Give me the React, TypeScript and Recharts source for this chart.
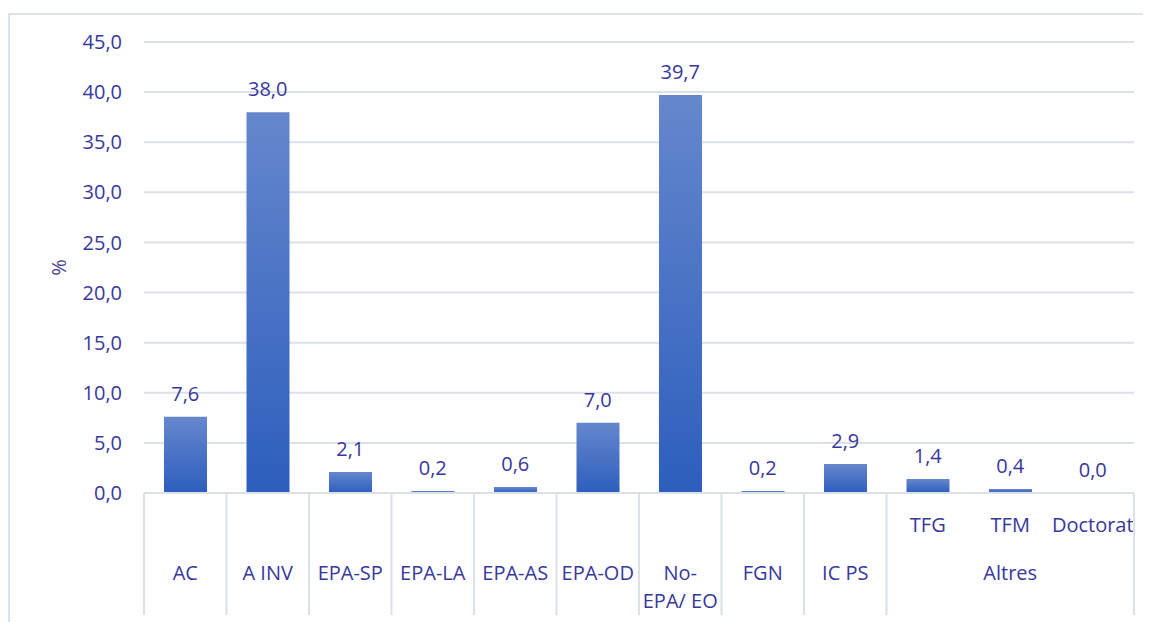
import React from "react";
import { ComposedChart, Bar, Line, XAxis, YAxis, CartesianGrid, LabelList } from "recharts";

const categories = ["AC", "A INV", "EPA-SP", "EPA-LA", "EPA-AS", "EPA-OD", "No-EPA/ EO", "FGN", "IC PS", "TFG", "TFM", "Doctorat"];
const groups = ["", "", "", "", "", "", "", "", "", "Altres", "Altres", "Altres"];
const values = [7.6, 38.0, 2.1, 0.2, 0.6, 7.0, 39.7, 0.2, 2.9, 1.4, 0.4, 0.0];
const yTicks = [0, 5, 10, 15, 20, 25, 30, 35, 40, 45];

const data = categories.map((c, i) => ({ name: c, group: groups[i], value: values[i], idx: i }));

const W = 1151;
const H = 622;
const MARGIN = { top: 42, right: 17, bottom: 6, left: 0 };
const Y_W = 144;
const X_H = 123;
const PLOT_W = W - MARGIN.left - MARGIN.right - Y_W;
const BW = PLOT_W / categories.length;

const TEXT = "#38389a";
const GRID = "#dbe0e9";
const FONT = "'Open Sans', 'Noto Sans', sans-serif";

const fmt = (v: number) => v.toFixed(1).replace(".", ",");

const splitLabel = (s: string): string[] => {
  if (s.length > 8 && s.indexOf("-") > 0) {
    const k = s.indexOf("-") + 1;
    return [s.slice(0, k), s.slice(k)];
  }
  return [s];
};

const XTick = (props: any) => {
  const { x, y, payload } = props;
  const i = payload.index as number;
  const g = groups[i];
  const left = x - BW / 2;
  const els: React.ReactNode[] = [];
  const lineEnd = y + X_H - 1;
  if (!g) {
    els.push(<line key="sep" x1={left} x2={left} y1={y} y2={lineEnd} stroke={GRID} strokeWidth={2} />);
    const lines = splitLabel(categories[i]);
    lines.forEach((ln, k) => {
      els.push(
        <text key={"t" + k} x={x} y={y + 79 + k * 28} textAnchor="middle" dominantBaseline="central" fill={TEXT} fontSize={20} fontFamily={FONT}>
          {ln}
        </text>
      );
    });
  } else {
    const first = groups.indexOf(g);
    const last = groups.lastIndexOf(g);
    if (i === first) {
      els.push(<line key="sep" x1={left} x2={left} y1={y} y2={lineEnd} stroke={GRID} strokeWidth={2} />);
      const n = last - first + 1;
      const cx = left + (n * BW) / 2;
      els.push(
        <text key="g" x={cx} y={y + 79} textAnchor="middle" dominantBaseline="central" fill={TEXT} fontSize={20} fontFamily={FONT}>
          {g}
        </text>
      );
    }
    els.push(
      <text key="s" x={x} y={y + 31} textAnchor="middle" dominantBaseline="central" fill={TEXT} fontSize={20} fontFamily={FONT}>
        {categories[i]}
      </text>
    );
  }
  if (i === categories.length - 1) {
    els.push(<line key="end" x1={x + BW / 2} x2={x + BW / 2} y1={y} y2={lineEnd} stroke={GRID} strokeWidth={2} />);
  }
  return <g>{els}</g>;
};

const YLabel = (props: any) => {
  const vb = props.viewBox || {};
  const cy = (vb.y || 0) + (vb.height || 0) / 2;
  return (
    <text x={58} y={cy} transform={`rotate(-90, 58, ${cy})`} textAnchor="middle" dominantBaseline="central" fill="#4a4299" fontSize={20} fontFamily={FONT}>
      %
    </text>
  );
};

const ValueLabel = (props: any) => {
  const { x, y, width, value } = props;
  if (value === undefined || value === null) return null;
  const cx = Number(x) + (Number(width) || 0) / 2;
  return (
    <text x={cx} y={Number(y) - 16} textAnchor="middle" fill={TEXT} fontSize={20} fontFamily={FONT}>
      {fmt(Number(value))}
    </text>
  );
};

export default function App() {
  return (
    <div
      style={{
        position: "relative",
        marginTop: 5,
        width: 1143,
        height: 620,
        border: "2px solid #dde1ea",
        boxSizing: "border-box",
      }}
    >
      <div style={{ position: "absolute", left: -10, top: -15 }}>
        <ComposedChart width={W} height={H} data={data} margin={MARGIN}>
          <defs>
            <linearGradient id="barGrad" x1="0" y1="0" x2="0" y2="1">
              <stop offset="0%" stopColor="#6587cd" />
              <stop offset="100%" stopColor="#2d5ebd" />
            </linearGradient>
          </defs>
          <CartesianGrid vertical={false} stroke={GRID} strokeWidth={2} />
          <XAxis
            dataKey="name"
            interval={0}
            height={X_H}
            tickLine={false}
            tickSize={0}
            tickMargin={0}
            axisLine={{ stroke: GRID, strokeWidth: 2 }}
            tick={<XTick />}
          />
          <YAxis
            width={Y_W}
            domain={[0, 45]}
            ticks={yTicks}
            tickFormatter={fmt}
            axisLine={false}
            tickLine={false}
            tickMargin={16}
            tick={{ fill: TEXT, fontSize: 20, fontFamily: FONT }}
            label={<YLabel />}
          />
          <Bar dataKey="value" fill="url(#barGrad)" barSize={43} isAnimationActive={false} />
          <Line dataKey="value" stroke="none" dot={false} activeDot={false} legendType="none" isAnimationActive={false}>
            <LabelList dataKey="value" content={<ValueLabel />} />
          </Line>
        </ComposedChart>
      </div>
    </div>
  );
}
